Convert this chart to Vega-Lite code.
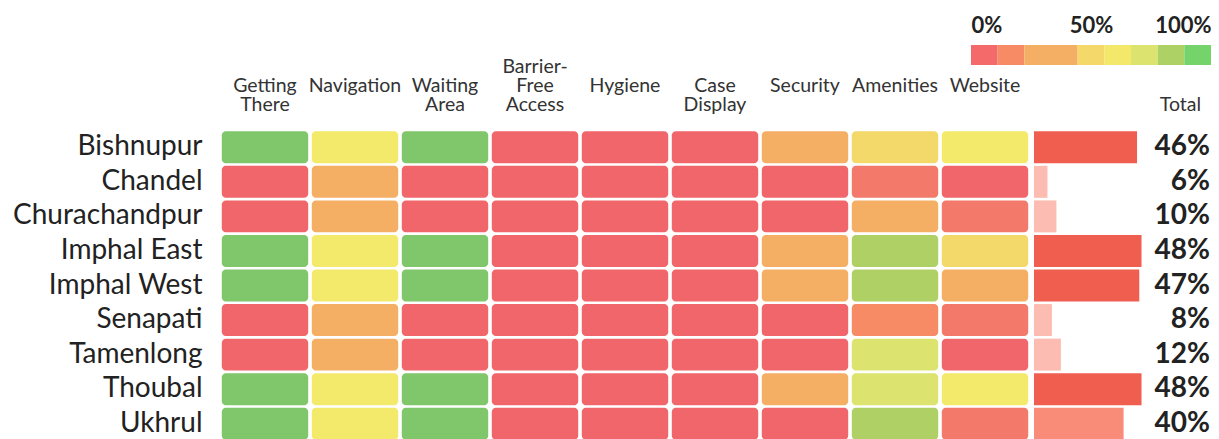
{
  "$schema": "https://vega.github.io/schema/vega-lite/v6.json",
  "padding": {"left": 12, "top": 14, "right": 6, "bottom": 0},
  "background": "white",
  "config": {"view": {"stroke": null}, "font": "Lato", "text": {"font": "Lato"}},
  "bounds": "flush",
  "spacing": 85,
  "resolve": {"scale": {"x": "independent", "y": "independent", "color": "independent"}},
  "datasets": {
    "cells": [
      {"district": "Bishnupur", "aspect": "Getting There", "score": 95},
      {"district": "Bishnupur", "aspect": "Navigation", "score": 58},
      {"district": "Bishnupur", "aspect": "Waiting Area", "score": 95},
      {"district": "Bishnupur", "aspect": "Barrier-Free Access", "score": 2},
      {"district": "Bishnupur", "aspect": "Hygiene", "score": 2},
      {"district": "Bishnupur", "aspect": "Case Display", "score": 2},
      {"district": "Bishnupur", "aspect": "Security", "score": 33},
      {"district": "Bishnupur", "aspect": "Amenities", "score": 50},
      {"district": "Bishnupur", "aspect": "Website", "score": 58},
      {"district": "Chandel", "aspect": "Getting There", "score": 2},
      {"district": "Chandel", "aspect": "Navigation", "score": 33},
      {"district": "Chandel", "aspect": "Waiting Area", "score": 2},
      {"district": "Chandel", "aspect": "Barrier-Free Access", "score": 2},
      {"district": "Chandel", "aspect": "Hygiene", "score": 2},
      {"district": "Chandel", "aspect": "Case Display", "score": 2},
      {"district": "Chandel", "aspect": "Security", "score": 2},
      {"district": "Chandel", "aspect": "Amenities", "score": 12},
      {"district": "Chandel", "aspect": "Website", "score": 2},
      {"district": "Churachandpur", "aspect": "Getting There", "score": 2},
      {"district": "Churachandpur", "aspect": "Navigation", "score": 33},
      {"district": "Churachandpur", "aspect": "Waiting Area", "score": 2},
      {"district": "Churachandpur", "aspect": "Barrier-Free Access", "score": 2},
      {"district": "Churachandpur", "aspect": "Hygiene", "score": 2},
      {"district": "Churachandpur", "aspect": "Case Display", "score": 2},
      {"district": "Churachandpur", "aspect": "Security", "score": 2},
      {"district": "Churachandpur", "aspect": "Amenities", "score": 33},
      {"district": "Churachandpur", "aspect": "Website", "score": 12},
      {"district": "Imphal East", "aspect": "Getting There", "score": 95},
      {"district": "Imphal East", "aspect": "Navigation", "score": 58},
      {"district": "Imphal East", "aspect": "Waiting Area", "score": 95},
      {"district": "Imphal East", "aspect": "Barrier-Free Access", "score": 2},
      {"district": "Imphal East", "aspect": "Hygiene", "score": 2},
      {"district": "Imphal East", "aspect": "Case Display", "score": 2},
      {"district": "Imphal East", "aspect": "Security", "score": 33},
      {"district": "Imphal East", "aspect": "Amenities", "score": 80},
      {"district": "Imphal East", "aspect": "Website", "score": 50},
      {"district": "Imphal West", "aspect": "Getting There", "score": 95},
      {"district": "Imphal West", "aspect": "Navigation", "score": 58},
      {"district": "Imphal West", "aspect": "Waiting Area", "score": 95},
      {"district": "Imphal West", "aspect": "Barrier-Free Access", "score": 2},
      {"district": "Imphal West", "aspect": "Hygiene", "score": 2},
      {"district": "Imphal West", "aspect": "Case Display", "score": 2},
      {"district": "Imphal West", "aspect": "Security", "score": 33},
      {"district": "Imphal West", "aspect": "Amenities", "score": 80},
      {"district": "Imphal West", "aspect": "Website", "score": 33},
      {"district": "Senapati", "aspect": "Getting There", "score": 2},
      {"district": "Senapati", "aspect": "Navigation", "score": 33},
      {"district": "Senapati", "aspect": "Waiting Area", "score": 2},
      {"district": "Senapati", "aspect": "Barrier-Free Access", "score": 2},
      {"district": "Senapati", "aspect": "Hygiene", "score": 2},
      {"district": "Senapati", "aspect": "Case Display", "score": 2},
      {"district": "Senapati", "aspect": "Security", "score": 2},
      {"district": "Senapati", "aspect": "Amenities", "score": 18},
      {"district": "Senapati", "aspect": "Website", "score": 12},
      {"district": "Tamenlong", "aspect": "Getting There", "score": 2},
      {"district": "Tamenlong", "aspect": "Navigation", "score": 33},
      {"district": "Tamenlong", "aspect": "Waiting Area", "score": 2},
      {"district": "Tamenlong", "aspect": "Barrier-Free Access", "score": 2},
      {"district": "Tamenlong", "aspect": "Hygiene", "score": 2},
      {"district": "Tamenlong", "aspect": "Case Display", "score": 2},
      {"district": "Tamenlong", "aspect": "Security", "score": 2},
      {"district": "Tamenlong", "aspect": "Amenities", "score": 70},
      {"district": "Tamenlong", "aspect": "Website", "score": 2},
      {"district": "Thoubal", "aspect": "Getting There", "score": 95},
      {"district": "Thoubal", "aspect": "Navigation", "score": 58},
      {"district": "Thoubal", "aspect": "Waiting Area", "score": 95},
      {"district": "Thoubal", "aspect": "Barrier-Free Access", "score": 2},
      {"district": "Thoubal", "aspect": "Hygiene", "score": 2},
      {"district": "Thoubal", "aspect": "Case Display", "score": 2},
      {"district": "Thoubal", "aspect": "Security", "score": 33},
      {"district": "Thoubal", "aspect": "Amenities", "score": 70},
      {"district": "Thoubal", "aspect": "Website", "score": 58},
      {"district": "Ukhrul", "aspect": "Getting There", "score": 95},
      {"district": "Ukhrul", "aspect": "Navigation", "score": 58},
      {"district": "Ukhrul", "aspect": "Waiting Area", "score": 95},
      {"district": "Ukhrul", "aspect": "Barrier-Free Access", "score": 2},
      {"district": "Ukhrul", "aspect": "Hygiene", "score": 2},
      {"district": "Ukhrul", "aspect": "Case Display", "score": 2},
      {"district": "Ukhrul", "aspect": "Security", "score": 2},
      {"district": "Ukhrul", "aspect": "Amenities", "score": 80},
      {"district": "Ukhrul", "aspect": "Website", "score": 12}
    ],
    "totals": [
      {"district": "Bishnupur", "total": 0.46},
      {"district": "Chandel", "total": 0.06},
      {"district": "Churachandpur", "total": 0.10},
      {"district": "Imphal East", "total": 0.48},
      {"district": "Imphal West", "total": 0.47},
      {"district": "Senapati", "total": 0.08},
      {"district": "Tamenlong", "total": 0.12},
      {"district": "Thoubal", "total": 0.48},
      {"district": "Ukhrul", "total": 0.40}
    ],
    "legend": [
      {"from": 0, "to": 0.1111, "step": "1"},
      {"from": 0.1111, "to": 0.2222, "step": "2"},
      {"from": 0.2222, "to": 0.4444, "step": "3"},
      {"from": 0.4444, "to": 0.5556, "step": "4"},
      {"from": 0.5556, "to": 0.6667, "step": "5"},
      {"from": 0.6667, "to": 0.7778, "step": "6"},
      {"from": 0.7778, "to": 0.8889, "step": "7"},
      {"from": 0.8889, "to": 1, "step": "8"}
    ]
  },
  "vconcat": [
    {
      "hconcat": [
        {
          "width": 751,
          "height": 20,
          "data": {"values": [{}]},
          "mark": {"type": "text"},
          "encoding": {"text": {"value": ""}}
        },
        {
          "width": 240,
          "height": 20,
          "data": {"name": "legend"},
          "mark": {"type": "rect"},
          "encoding": {
            "x": {
              "field": "from",
              "type": "quantitative",
              "scale": {"domain": [0, 1], "nice": false},
              "axis": {
                "orient": "top",
                "title": null,
                "values": [0, 0.5, 1],
                "format": ".0%",
                "labelFlush": true,
                "domain": false,
                "ticks": false,
                "grid": false,
                "labelPadding": 8,
                "labelFont": "Lato",
                "labelFontWeight": "bold",
                "labelFontSize": 22,
                "labelColor": "#222222"
              }
            },
            "x2": {"field": "to"},
            "color": {
              "field": "step",
              "type": "nominal",
              "scale": {
                "domain": ["1", "2", "3", "4", "5", "6", "7", "8"],
                "range": ["#F46A6A", "#F68B66", "#F5AF65", "#F4D86A", "#F3E869", "#DCE36E", "#AED166", "#74D36A"]
              },
              "legend": null
            }
          }
        }
      ],
      "spacing": 0,
      "bounds": "flush",
      "resolve": {"scale": {"x": "independent", "y": "independent", "color": "independent"}}
    },
    {
      "hconcat": [
        {
          "width": 810,
          "height": 311,
          "data": {"name": "cells"},
          "mark": {"type": "rect", "cornerRadius": 4},
          "encoding": {
            "x": {
              "field": "aspect",
              "type": "nominal",
              "sort": ["Getting There", "Navigation", "Waiting Area", "Barrier-Free Access", "Hygiene", "Case Display", "Security", "Amenities", "Website"],
              "scale": {"paddingInner": 0.04, "paddingOuter": 0.02},
              "axis": {
                "orient": "top",
                "title": null,
                "labelAngle": 0,
                "labelExpr": "datum.label == 'Barrier-Free Access' ? ['Barrier-', 'Free', 'Access'] : (indexof(datum.label, ' ') > 0 ? ['', split(datum.label, ' ')[0], split(datum.label, ' ')[1]] : ['', '', datum.label])",
                "labelLineHeight": 19,
                "labelPadding": 54,
                "labelFont": "Lato",
                "labelFontSize": 19.5,
                "labelColor": "#333333",
                "domain": false,
                "ticks": false
              }
            },
            "y": {
              "field": "district",
              "type": "nominal",
              "scale": {"paddingInner": 0.075, "paddingOuter": 0.0375},
              "axis": {
                "title": null,
                "domain": false,
                "ticks": false,
                "labelPadding": 18,
                "labelLimit": 400,
                "labelFont": "Lato",
                "labelFontSize": 28,
                "labelColor": "#222222"
              }
            },
            "color": {
              "field": "score",
              "type": "quantitative",
              "scale": {
                "type": "threshold",
                "domain": [10, 15, 25, 45, 55, 65, 75, 90],
                "range": ["#F0666A", "#F37A6A", "#F78B66", "#F5AF65", "#F2D96A", "#F3E96A", "#DCE36E", "#AFD064", "#80C66A"]
              },
              "legend": null
            }
          }
        },
        {
          "width": 112,
          "height": 311,
          "data": {"name": "totals"},
          "mark": {"type": "bar"},
          "encoding": {
            "y": {
              "field": "district",
              "type": "nominal",
              "scale": {"paddingInner": 0.075, "paddingOuter": 0.0375},
              "axis": null
            },
            "x": {
              "field": "total",
              "type": "quantitative",
              "scale": {"domain": [0, 0.5], "nice": false},
              "axis": null
            },
            "color": {
              "field": "total",
              "type": "quantitative",
              "scale": {
                "type": "threshold",
                "domain": [0.2, 0.44],
                "range": ["#FDBCB1", "#F88C78", "#F05E50"]
              },
              "legend": null
            }
          }
        },
        {
          "width": 60,
          "height": 311,
          "data": {"name": "totals"},
          "mark": {"type": "text", "align": "right", "baseline": "middle", "dx": 30, "font": "Lato", "fontWeight": "bold", "fontSize": 28, "color": "#222222"},
          "encoding": {
            "y": {
              "field": "district",
              "type": "nominal",
              "scale": {"paddingInner": 0.075, "paddingOuter": 0.0375},
              "axis": null
            },
            "x": {
              "datum": "Total",
              "type": "nominal",
              "scale": {"paddingInner": 0, "paddingOuter": 0},
              "axis": {
                "orient": "top",
                "title": null,
                "labelAngle": 0,
                "labelPadding": 16,
                "labelFont": "Lato",
                "labelFontSize": 19.5,
                "labelColor": "#333333",
                "domain": false,
                "ticks": false
              }
            },
            "text": {"field": "total", "type": "quantitative", "format": ".0%"}
          }
        }
      ],
      "spacing": 4,
      "bounds": "flush",
      "resolve": {"scale": {"x": "independent", "y": "independent", "color": "independent"}}
    }
  ]
}
